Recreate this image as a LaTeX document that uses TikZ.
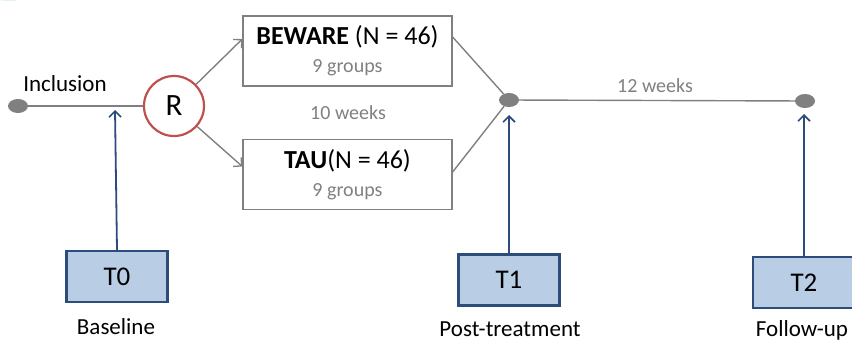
\documentclass[tikz,border=0pt]{standalone}
\usepackage{fontspec}
\setmainfont{Carlito}
\usetikzlibrary{shapes.geometric,arrows.meta,calc}
\definecolor{lgray}{RGB}{128,128,128}
\definecolor{rred}{RGB}{192,80,77}
\definecolor{dblue}{RGB}{44,77,124}
\definecolor{lblue}{RGB}{185,205,229}
\definecolor{teal}{RGB}{0,160,190}
\definecolor{corange}{RGB}{240,180,120}
\tikzset{
  dot/.style={ellipse,fill=lgray,draw=none,minimum width=20pt,minimum height=14pt,inner sep=0pt},
  armbox/.style={rectangle,draw=lgray,line width=1.3pt,minimum width=209pt,minimum height=70pt,align=center,inner sep=0pt,font=\fontsize{26}{28}\selectfont},
  tbox/.style={rectangle,draw=dblue,line width=2.4pt,fill=lblue,minimum width=101pt,minimum height=51pt,font=\fontsize{27}{30}\selectfont,inner sep=0pt},
  glabel/.style={font=\fontsize{20}{24}\selectfont,text=lgray,inner sep=0pt},
  blabel/.style={font=\fontsize{23}{27}\selectfont,inner sep=0pt},
  gline/.style={draw=lgray,line width=1.4pt},
  garrow/.style={gline,-{Straight Barb[length=6pt,width=12pt,line width=1.3pt]}},
  barrow/.style={draw=dblue,line width=1.8pt,-{Straight Barb[length=6pt,width=12pt,line width=1.6pt]}}
}
\begin{document}
\begin{tikzpicture}[x=1pt,y=1pt]
\useasboundingbox (0,0) rectangle (852,-343);
% corner decoration
\fill[teal] (3,0) -- (16,0) -- (0,16) -- (0,3) -- cycle;
\fill[corange] (0,0) -- (3,0) -- (0,3) -- cycle;
% dots
\node[dot] (d0) at (18,-106) {};
\node[dot] (d1) at (509,-100) {};
\node[dot] (d2) at (805,-101) {};
% randomisation
\node[circle,draw=rred,line width=2.2pt,minimum size=60pt,inner sep=0pt,font=\fontsize{31}{33}\selectfont] (R) at (174,-106) {R};
% arms
\node[armbox] (bew) at (347.5,-51) {\textbf{BEWARE} (N = 46)\\{\fontsize{20}{24}\selectfont\color{lgray}9 groups}};
\node[armbox] (tau) at (347.5,-174.5) {\textbf{TAU}(N = 46)\\{\fontsize{20}{24}\selectfont\color{lgray}9 groups}};
% labels
\node[blabel] (incl) at (65,-84) {Inclusion};
\node[glabel] (ten) at (348,-113) {10 weeks};
\node[glabel] (twelve) at (655,-86) {12 weeks};
% measurement boxes
\node[tbox] (t0) at (117,-276.5) {T0};
\node[tbox] (t1) at (509,-280) {T1};
\node[tbox,minimum width=112pt] (t2) at (809,-282.5) {};
\node[font=\fontsize{27}{30}\selectfont,inner sep=0pt] (t2l) at (804,-282.5) {T2};
\node[blabel] (base) at (116,-327) {Baseline};
\node[blabel] (post) at (510,-329) {Post-treatment};
\node[blabel] (fol) at (802,-330.5) {Follow-up};
% arrow targets
\coordinate (a0) at (115,-110);
\coordinate (a1) at (509,-115);
\coordinate (a2) at (804,-114);
% connectors
\draw[gline] (d0) -- (R);
\draw[garrow] (R) -- ($(bew.west)+(0,12)$);
\draw[garrow] (R) -- ($(tau.west)+(0,8)$);
\draw[gline] ($(bew.east)+(0,14)$) -- (d1);
\draw[gline] ($(tau.east)+(0,2.5)$) -- (d1);
\draw[gline] (d1) -- (d2);
\draw[barrow] (t0.north) -- (a0);
\draw[barrow] (t1.north) -- (a1);
\draw[barrow] (t2l |- t2.north) -- (a2);
\end{tikzpicture}
\end{document}
